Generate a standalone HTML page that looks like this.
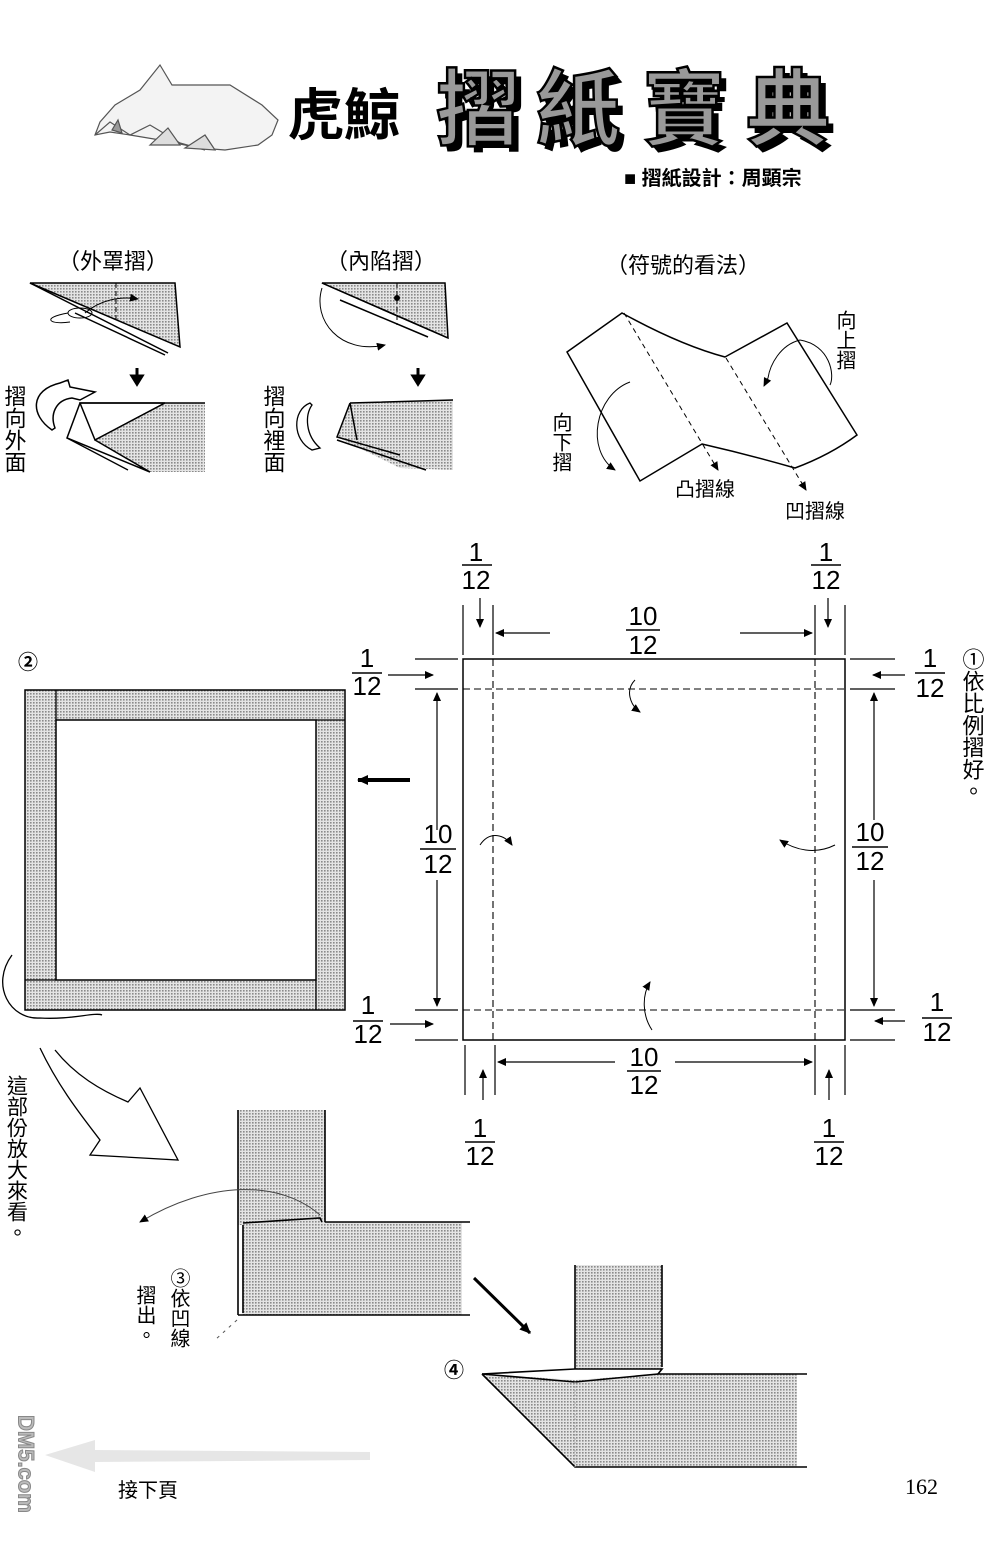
<!DOCTYPE html>
<html><head><meta charset="utf-8"><style>
html,body{margin:0;padding:0;background:#fff}
svg{display:block}
text{font-family:"Liberation Sans","Noto Sans CJK TC",sans-serif}
.v{writing-mode:vertical-rl}
</style></head><body>
<svg width="1000" height="1567" viewBox="0 0 1000 1567" xmlns="http://www.w3.org/2000/svg">
<defs>
<pattern id="dot" width="3" height="3" patternUnits="userSpaceOnUse"><rect width="3" height="3" fill="#e4e4e4"/><rect width="1.6" height="1.6" fill="#8a8a8a"/></pattern>
<marker id="ah" markerWidth="10" markerHeight="10" refX="8" refY="5" orient="auto" markerUnits="userSpaceOnUse"><path d="M0,1 L9,5 L0,9 Z" fill="#000"/></marker>
<marker id="ah2" markerWidth="12" markerHeight="12" refX="10" refY="6" orient="auto" markerUnits="userSpaceOnUse"><path d="M0,1 L11,6 L0,11 Z" fill="#000"/></marker>
</defs>

<!-- whale -->
<g stroke="#555" stroke-width="1.2" fill="#f3f3f3">
<path d="M160,65 L172,85 L230,85 L262,105 L278,120 L272,135 L258,145 L225,150 L200,148 L160,140 L130,135 L110,132 L95,135 L100,122 L115,105 L140,90 Z"/>
<path d="M95,135 L110,122 L130,135 L150,125 L180,143 L205,150" fill="none"/>
<path d="M150,145 L168,128 L180,145 Z" fill="#ddd"/>
<path d="M185,148 L205,135 L215,150 Z" fill="#ddd"/>
<path d="M112,130 L118,120 L122,133 Z" fill="#999"/>
</g>
<text x="288" y="135" font-size="56" font-weight="bold">虎鯨</text>
<g font-size="84" font-weight="bold">
<text x="442" y="145" fill="#000">摺</text><text x="542" y="145" fill="#000">紙</text><text x="648" y="145" fill="#000">寶</text><text x="752" y="145" fill="#000">典</text>
<text x="436" y="139" fill="#999" stroke="#000" stroke-width="2.5">摺</text><text x="536" y="139" fill="#999" stroke="#000" stroke-width="2.5">紙</text><text x="642" y="139" fill="#999" stroke="#000" stroke-width="2.5">寶</text><text x="746" y="139" fill="#999" stroke="#000" stroke-width="2.5">典</text>
</g>
<text x="624" y="185" font-size="20" font-weight="bold">■ 摺紙設計：周顕宗</text>

<!-- section headers -->
<text x="58" y="269" font-size="22">（外罩摺）</text>
<text x="326" y="269" font-size="22">（內陷摺）</text>
<text x="606" y="273" font-size="22">（符號的看法）</text>

<!-- outside reverse fold -->
<path d="M30,283 L175,283 L180,347 Z" fill="url(#dot)" stroke="#000" stroke-width="1.5"/>
<path d="M30,283 L168,353" stroke="#000" stroke-width="1.5" fill="none"/>
<path d="M75,313 L165,355" stroke="#000" stroke-width="1.5"/>
<line x1="116" y1="283" x2="116" y2="320" stroke="#000" stroke-dasharray="5,3"/>
<path d="M85,313 C100,300 120,296 138,299" stroke="#000" fill="none" marker-end="url(#ah)"/>
<ellipse cx="80" cy="313" rx="12" ry="5" fill="none" stroke="#000"/>
<path d="M68,313 C40,318 50,325 70,322" stroke="#000" fill="none"/>
<path d="M137,368 L137,378 M132,376 L137,384 L142,376 Z" stroke="#000" stroke-width="3" fill="#000"/>
<path d="M80,403 L165,403 L95,440 Z" fill="#fff" stroke="#000" stroke-width="1.5"/>
<path d="M95,440 L165,403 L205,403 L205,472 L150,472 Z" fill="url(#dot)"/>
<path d="M80,403 L205,403 M80,403 L67,438 L150,472 M95,440 L165,403 M95,440 L150,472" stroke="#000" stroke-width="1.5" fill="none"/>
<path d="M67,438 L128,470" stroke="#000" stroke-width="1.3"/>
<path d="M52,430 C30,415 30,390 60,383 L68,380 L70,387 L95,392 L80,400 L72,398 C55,400 50,415 55,428 Z" fill="#fff" stroke="#000" stroke-width="1.5"/>
<text class="v" x="14" y="385" font-size="22">摺向外面</text>

<!-- inside reverse fold -->
<path d="M322,283 L445,283 L448,338 Z" fill="url(#dot)" stroke="#000" stroke-width="1.5"/>
<path d="M322,283 L448,338" stroke="#000" stroke-width="1.5"/>
<path d="M340,300 L428,337" stroke="#000" stroke-width="1.5"/>
<line x1="397" y1="283" x2="397" y2="325" stroke="#000" stroke-dasharray="5,3"/>
<circle cx="397" cy="298" r="3" fill="#000"/>
<path d="M322,288 C312,320 340,355 385,345" stroke="#000" fill="none" marker-end="url(#ah)"/>
<path d="M418,368 L418,378 M413,376 L418,384 L423,376 Z" stroke="#000" stroke-width="3" fill="#000"/>
<path d="M350,403 L453,400 L453,470 L400,468 L337,437 Z" fill="url(#dot)"/>
<path d="M350,403 L453,400 M350,403 L337,437 L400,455 M350,403 L357,440 M337,440 L426,470" stroke="#000" stroke-width="1.5" fill="none"/>
<path d="M310,403 C292,410 292,440 312,450 L320,448 C305,435 305,415 312,405 Z" fill="#fff" stroke="#000" stroke-width="1.3"/>
<text class="v" x="273" y="385" font-size="22">摺向裡面</text>

<!-- symbol reading -->
<path d="M567,352 L622,313 Q680,345 725,357 L787,323 L857,435 Q830,455 795,468 Q750,455 702,444 L640,481 Z" fill="#fff" stroke="#000" stroke-width="1.5"/>
<line x1="624" y1="313" x2="718" y2="470" stroke="#000" stroke-dasharray="5,4" marker-end="url(#ah)"/>
<line x1="726" y1="358" x2="806" y2="490" stroke="#000" stroke-dasharray="5,4" marker-end="url(#ah)"/>
<path d="M630,382 C595,395 585,450 615,470" stroke="#000" fill="none" marker-end="url(#ah)"/>
<path d="M800,340 C830,345 835,375 830,385 M800,340 C780,345 770,365 768,378" stroke="#000" fill="none"/>
<path d="M768,378 L764,386" stroke="#000" marker-end="url(#ah)"/>
<text class="v" x="560" y="412" font-size="20">向下摺</text>
<text class="v" x="844" y="310" font-size="20">向上摺</text>
<text x="675" y="496" font-size="20">凸摺線</text>
<text x="785" y="518" font-size="20">凹摺線</text>

<!-- step 1 square -->
<rect x="463" y="659" width="382" height="381" fill="#fff" stroke="#000" stroke-width="1.5"/>
<g stroke="#000" stroke-dasharray="7,4" stroke-width="1.1">
<line x1="493" y1="659" x2="493" y2="1040"/><line x1="815" y1="659" x2="815" y2="1040"/>
<line x1="463" y1="689" x2="845" y2="689"/><line x1="463" y1="1010" x2="845" y2="1010"/>
</g>
<g stroke="#000" fill="none" stroke-width="1">
<path d="M635,680 C625,690 630,705 640,712" marker-end="url(#ah)"/>
<path d="M480,845 C490,830 505,835 512,845" marker-end="url(#ah)"/>
<path d="M835,845 C815,855 795,850 780,840" marker-end="url(#ah)"/>
<path d="M652,1030 C642,1015 642,995 650,982" marker-end="url(#ah)"/>
</g>
<g stroke="#000" stroke-width="1.2">
<line x1="463" y1="605" x2="463" y2="655"/><line x1="493" y1="605" x2="493" y2="655"/>
<line x1="815" y1="605" x2="815" y2="655"/><line x1="845" y1="605" x2="845" y2="655"/>
<line x1="465" y1="1045" x2="465" y2="1095"/><line x1="495" y1="1045" x2="495" y2="1095"/>
<line x1="815" y1="1045" x2="815" y2="1095"/><line x1="845" y1="1045" x2="845" y2="1095"/>
<line x1="415" y1="659" x2="458" y2="659"/><line x1="415" y1="689" x2="458" y2="689"/>
<line x1="415" y1="1010" x2="458" y2="1010"/><line x1="415" y1="1040" x2="458" y2="1040"/>
<line x1="850" y1="659" x2="895" y2="659"/><line x1="850" y1="689" x2="895" y2="689"/>
<line x1="850" y1="1010" x2="895" y2="1010"/><line x1="850" y1="1040" x2="895" y2="1040"/>
</g>
<g stroke="#000" stroke-width="1.2" fill="none">
<line x1="480" y1="598" x2="480" y2="627" marker-end="url(#ah)"/>
<line x1="828" y1="598" x2="828" y2="627" marker-end="url(#ah)"/>
<line x1="550" y1="633" x2="496" y2="633" marker-end="url(#ah)"/>
<line x1="740" y1="633" x2="812" y2="633" marker-end="url(#ah)"/>
<line x1="388" y1="675" x2="433" y2="675" marker-end="url(#ah)"/>
<line x1="905" y1="675" x2="873" y2="675" marker-end="url(#ah)"/>
<line x1="437" y1="830" x2="437" y2="693" marker-end="url(#ah)"/>
<line x1="437" y1="880" x2="437" y2="1006" marker-end="url(#ah)"/>
<line x1="874" y1="820" x2="874" y2="693" marker-end="url(#ah)"/>
<line x1="874" y1="880" x2="874" y2="1006" marker-end="url(#ah)"/>
<line x1="390" y1="1024" x2="433" y2="1024" marker-end="url(#ah)"/>
<line x1="905" y1="1021" x2="875" y2="1021" marker-end="url(#ah)"/>
<line x1="615" y1="1062" x2="498" y2="1062" marker-end="url(#ah)"/>
<line x1="675" y1="1062" x2="812" y2="1062" marker-end="url(#ah)"/>
<line x1="483" y1="1100" x2="483" y2="1070" marker-end="url(#ah)"/>
<line x1="829" y1="1100" x2="829" y2="1070" marker-end="url(#ah)"/>
</g>
<g stroke="#000" stroke-width="1.5">
<line x1="462" y1="565" x2="492" y2="565"/><line x1="811" y1="565" x2="841" y2="565"/>
<line x1="626" y1="630" x2="660" y2="630"/>
<line x1="352" y1="673" x2="382" y2="673"/><line x1="915" y1="673" x2="945" y2="673"/>
<line x1="420" y1="849" x2="456" y2="849"/><line x1="852" y1="847" x2="888" y2="847"/>
<line x1="353" y1="1021" x2="383" y2="1021"/><line x1="922" y1="1018" x2="952" y2="1018"/>
<line x1="627" y1="1071" x2="661" y2="1071"/>
<line x1="465" y1="1142" x2="495" y2="1142"/><line x1="814" y1="1142" x2="844" y2="1142"/>
</g>
<g font-size="26" text-anchor="middle">
<text x="476" y="561">1</text><text x="476" y="589">12</text>
<text x="826" y="561">1</text><text x="826" y="589">12</text>
<text x="643" y="625">10</text><text x="643" y="654">12</text>
<text x="367" y="667">1</text><text x="367" y="695">12</text>
<text x="930" y="667">1</text><text x="930" y="697">12</text>
<text x="438" y="843">10</text><text x="438" y="873">12</text>
<text x="870" y="841">10</text><text x="870" y="870">12</text>
<text x="368" y="1014">1</text><text x="368" y="1043">12</text>
<text x="937" y="1011">1</text><text x="937" y="1041">12</text>
<text x="644" y="1066">10</text><text x="644" y="1094">12</text>
<text x="480" y="1137">1</text><text x="480" y="1165">12</text>
<text x="829" y="1137">1</text><text x="829" y="1165">12</text>
</g>
<text class="v" x="972" y="648" font-size="22">①依比例摺好。</text>

<!-- step 2 -->
<text x="18" y="669" font-size="20" font-weight="bold">②</text>
<rect x="25" y="690" width="320" height="320" fill="url(#dot)" stroke="#000" stroke-width="1.5"/>
<rect x="56" y="720" width="260" height="260" fill="#fff" stroke="#000" stroke-width="1.5"/>
<g stroke="#000" stroke-width="1.3">
<line x1="56" y1="690" x2="56" y2="720"/><line x1="316" y1="720" x2="345" y2="720"/>
<line x1="25" y1="980" x2="56" y2="980"/><line x1="316" y1="980" x2="316" y2="1010"/>
</g>
<line x1="410" y1="780" x2="358" y2="780" stroke="#000" stroke-width="4" marker-end="url(#ah2)"/>

<!-- magnify arrow -->
<path d="M12,955 C-10,985 10,1020 40,1018 C70,1020 95,1012 102,1015" fill="none" stroke="#000" stroke-width="1.3"/>
<path d="M40,1048 C60,1090 85,1120 100,1140 L90,1155 L178,1160 L140,1088 L128,1102 C100,1090 75,1075 55,1050" fill="#fff" stroke="#000" stroke-width="1.3"/>
<text class="v" x="16" y="1075" font-size="21">這部份放大來看。</text>

<!-- step 3 -->
<rect x="238" y="1110" width="87" height="115" fill="url(#dot)"/>
<rect x="242" y="1222" width="220" height="93" fill="url(#dot)"/>
<g stroke="#000" stroke-width="1.6" fill="none">
<line x1="238" y1="1110" x2="238" y2="1315"/><line x1="325" y1="1110" x2="325" y2="1222"/>
<path d="M238,1315 L470,1315 M325,1222 L470,1222 M243,1225 L243,1313"/>
<path d="M243,1223 L320,1218 L322,1222"/>
</g>
<path d="M320,1215 C280,1180 210,1180 140,1222" stroke="#444" fill="none" marker-end="url(#ah)"/>
<text class="v" x="178" y="1268" font-size="20">③依凹線</text>
<text class="v" x="144" y="1285" font-size="20">摺出。</text>
<line x1="237" y1="1320" x2="215" y2="1340" stroke="#555" stroke-dasharray="3,5"/>

<line x1="474" y1="1278" x2="530" y2="1333" stroke="#000" stroke-width="3" marker-end="url(#ah2)"/>

<!-- step 4 -->
<text x="444" y="1377" font-size="20" font-weight="bold">④</text>
<rect x="575" y="1265" width="87" height="104" fill="url(#dot)"/>
<path d="M482,1374 L575,1380 L660,1374 L797,1374 L797,1467 L575,1467 Z" fill="url(#dot)"/>
<g stroke="#000" stroke-width="1.6" fill="none">
<line x1="575" y1="1265" x2="575" y2="1369"/><line x1="662" y1="1265" x2="662" y2="1367"/>
<path d="M482,1374 L575,1369 L662,1369 L658,1374 L807,1374"/>
<path d="M482,1374 L575,1382 L658,1374"/>
<path d="M482,1374 L575,1467 L807,1467"/>
</g>
<line x1="575" y1="1382" x2="575" y2="1467" stroke="#aaa" stroke-dasharray="2,2"/>

<!-- footer -->
<path d="M45,1455 L95,1440 L95,1450 L370,1452 L370,1460 L95,1462 L95,1472 Z" fill="#e6e6e6"/>
<text x="118" y="1497" font-size="20">接下頁</text>
<text x="905" y="1494" font-size="22" style="font-family:'Liberation Serif',serif">162</text>
<text class="v" x="26" y="1415" font-size="22" font-weight="bold" fill="#bbb" stroke="#888" stroke-width="1">DM5.com</text>
</svg>
</body></html>
